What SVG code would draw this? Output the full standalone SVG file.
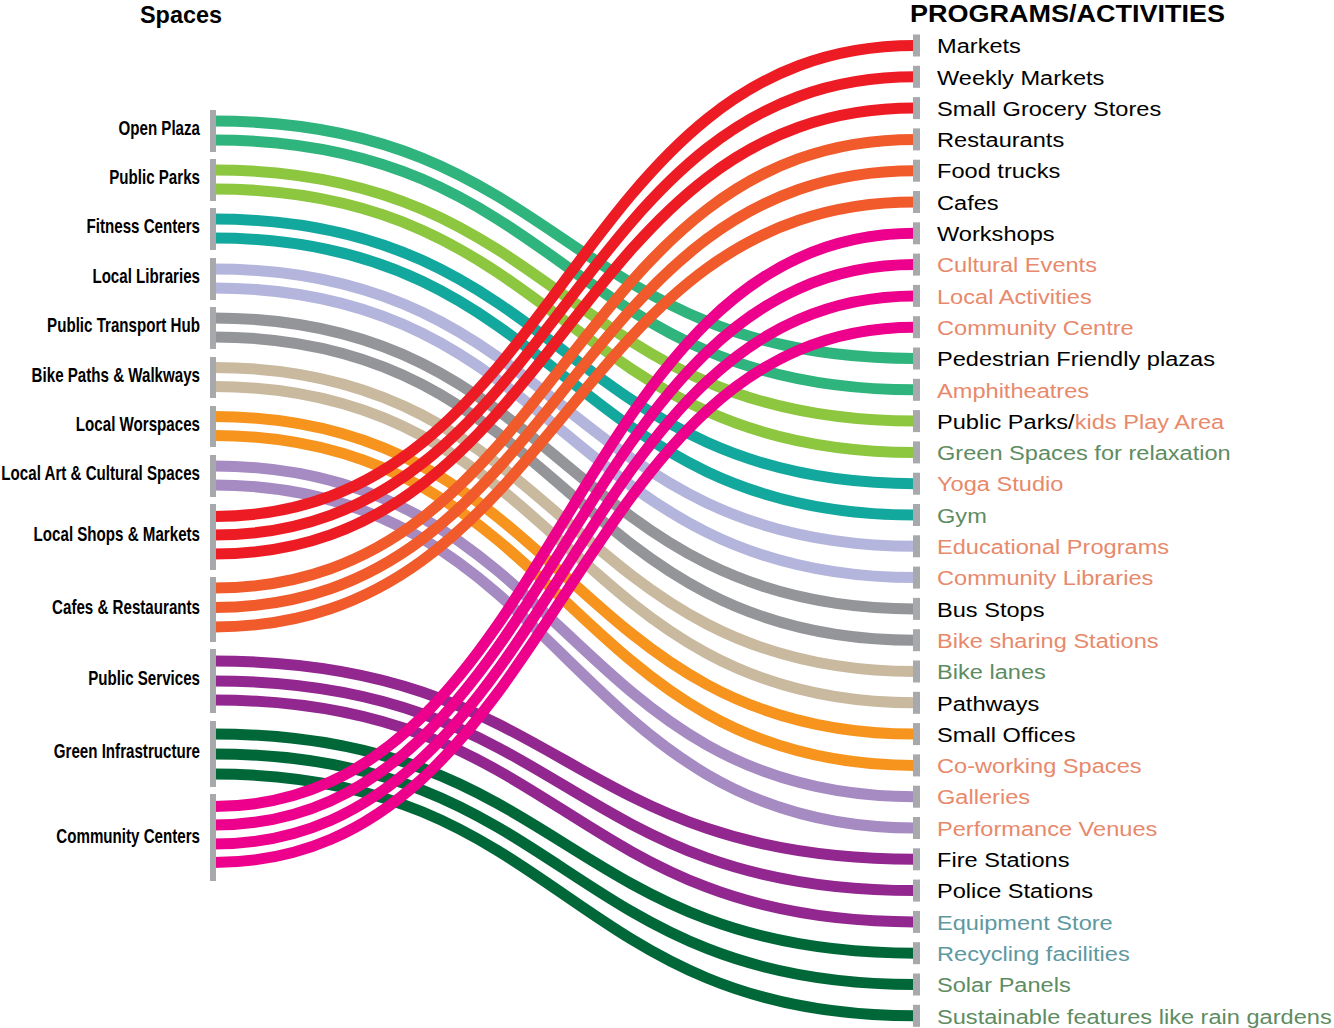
<svg xmlns="http://www.w3.org/2000/svg" width="1334" height="1028" viewBox="0 0 1334 1028">
<style>
.bar{fill:#A7A9AC}
.ln{fill:none;stroke-width:11}
.lt{font-family:"Liberation Sans",Arial,sans-serif;font-weight:bold;font-size:20px;fill:#000;text-anchor:end}
.rt{font-family:"Liberation Sans",Arial,sans-serif;font-size:21px;fill:#000}
.o{fill:#E8896B}.g{fill:#5E8C62}.t{fill:#5E98A0}
.hd{font-family:"Liberation Sans",Arial,sans-serif;font-weight:bold;fill:#000}
.c1{stroke:#2EB47C}.c2{stroke:#8DC63F}.c3{stroke:#13A89E}.c4{stroke:#B3B5DC}.c5{stroke:#939598}.c6{stroke:#C8B99F}.c7{stroke:#F7941D}.c8{stroke:#A68BC3}.c9{stroke:#ED1C24}.c10{stroke:#F15A2B}.c11{stroke:#92278F}.c12{stroke:#006838}.c13{stroke:#EC008C}
</style>
<text class="hd" x="140" y="22.5" font-size="24" textLength="82" lengthAdjust="spacingAndGlyphs">Spaces</text>
<text class="hd" x="910" y="21.7" font-size="23.3" textLength="315" lengthAdjust="spacingAndGlyphs">PROGRAMS/ACTIVITIES</text>
<g id="connectors" opacity="1">
<path class="ln c1" d="M214,121 C564.5,121 564.5,358.5 915,358.5"/>
<path class="ln c1" d="M214,140 C564.5,140 564.5,389.8 915,389.8"/>
<path class="ln c2" d="M214,170 C564.5,170 564.5,421.1 915,421.1"/>
<path class="ln c2" d="M214,189 C564.5,189 564.5,452.4 915,452.4"/>
<path class="ln c3" d="M214,219 C564.5,219 564.5,483.7 915,483.7"/>
<path class="ln c3" d="M214,238 C564.5,238 564.5,515 915,515"/>
<path class="ln c4" d="M214,269 C564.5,269 564.5,546.3 915,546.3"/>
<path class="ln c4" d="M214,288 C564.5,288 564.5,577.6 915,577.6"/>
<path class="ln c5" d="M214,318 C564.5,318 564.5,608.9 915,608.9"/>
<path class="ln c5" d="M214,337 C564.5,337 564.5,640.2 915,640.2"/>
<path class="ln c6" d="M214,367.5 C564.5,367.5 564.5,671.5 915,671.5"/>
<path class="ln c6" d="M214,386.5 C564.5,386.5 564.5,702.8 915,702.8"/>
<path class="ln c7" d="M214,416.5 C564.5,416.5 564.5,734.1 915,734.1"/>
<path class="ln c7" d="M214,435.5 C564.5,435.5 564.5,765.4 915,765.4"/>
<path class="ln c8" d="M214,466 C564.5,466 564.5,796.7 915,796.7"/>
<path class="ln c8" d="M214,485 C564.5,485 564.5,828 915,828"/>
<path class="ln c9" d="M214,516.5 C564.5,516.5 564.5,45.5 915,45.5"/>
<path class="ln c9" d="M214,535 C564.5,535 564.5,76.8 915,76.8"/>
<path class="ln c9" d="M214,554 C564.5,554 564.5,108.1 915,108.1"/>
<path class="ln c10" d="M214,588 C564.5,588 564.5,139.4 915,139.4"/>
<path class="ln c10" d="M214,607.5 C564.5,607.5 564.5,170.7 915,170.7"/>
<path class="ln c10" d="M214,627 C564.5,627 564.5,202 915,202"/>
<path class="ln c11" d="M214,661 C564.5,661 564.5,859.3 915,859.3"/>
<path class="ln c11" d="M214,681 C564.5,681 564.5,890.6 915,890.6"/>
<path class="ln c11" d="M214,700 C564.5,700 564.5,921.9 915,921.9"/>
<path class="ln c12" d="M214,734 C564.5,734 564.5,953.2 915,953.2"/>
<path class="ln c12" d="M214,754 C564.5,754 564.5,984.5 915,984.5"/>
<path class="ln c12" d="M214,774 C564.5,774 564.5,1015.8 915,1015.8"/>
<path class="ln c13" d="M214,806.5 C564.5,806.5 564.5,233.3 915,233.3"/>
<path class="ln c13" d="M214,825 C564.5,825 564.5,264.6 915,264.6"/>
<path class="ln c13" d="M214,844 C564.5,844 564.5,295.9 915,295.9"/>
<path class="ln c13" d="M214,862.5 C564.5,862.5 564.5,327.2 915,327.2"/>
</g>
<g id="spaces">
<g id="s-open-plaza"><rect class="bar" x="210" y="110" width="6" height="42"/></g>
<g id="s-public-parks"><rect class="bar" x="210" y="159" width="6" height="42"/></g>
<g id="s-fitness"><rect class="bar" x="210" y="208" width="6" height="42"/></g>
<g id="s-libraries"><rect class="bar" x="210" y="258" width="6" height="42"/></g>
<g id="s-transport"><rect class="bar" x="210" y="307" width="6" height="42"/></g>
<g id="s-bike"><rect class="bar" x="210" y="357" width="6" height="41"/></g>
<g id="s-work"><rect class="bar" x="210" y="406" width="6" height="41"/></g>
<g id="s-art"><rect class="bar" x="210" y="455" width="6" height="42"/></g>
<g id="s-shops"><rect class="bar" x="210" y="504" width="6" height="66"/></g>
<g id="s-cafes"><rect class="bar" x="210" y="577" width="6" height="65"/></g>
<g id="s-services"><rect class="bar" x="210" y="649" width="6" height="64"/></g>
<g id="s-green"><rect class="bar" x="210" y="721" width="6" height="66"/></g>
<g id="s-community"><rect class="bar" x="210" y="794" width="6" height="87"/></g>
<g transform="translate(200,0) scale(0.757,1)">
<text class="lt" x="0" y="135.5">Open Plaza</text>
<text class="lt" x="0" y="184.5">Public Parks</text>
<text class="lt" x="0" y="233.5">Fitness Centers</text>
<text class="lt" x="0" y="283.5">Local Libraries</text>
<text class="lt" x="0" y="332.5">Public Transport Hub</text>
<text class="lt" x="0" y="382">Bike Paths &amp; Walkways</text>
<text class="lt" x="0" y="431">Local Worspaces</text>
<text class="lt" x="0" y="480.5">Local Art &amp; Cultural Spaces</text>
<text class="lt" x="0" y="541.5">Local Shops &amp; Markets</text>
<text class="lt" x="0" y="614">Cafes &amp; Restaurants</text>
<text class="lt" x="0" y="685.5">Public Services</text>
<text class="lt" x="0" y="758.5">Green Infrastructure</text>
<text class="lt" x="0" y="843">Community Centers</text>
</g>
</g>
<g id="programs">
<rect class="bar" x="913" y="34.5" width="7" height="22"/>
<rect class="bar" x="913" y="65.8" width="7" height="22"/>
<rect class="bar" x="913" y="97.1" width="7" height="22"/>
<rect class="bar" x="913" y="128.4" width="7" height="22"/>
<rect class="bar" x="913" y="159.7" width="7" height="22"/>
<rect class="bar" x="913" y="191" width="7" height="22"/>
<rect class="bar" x="913" y="222.3" width="7" height="22"/>
<rect class="bar" x="913" y="253.6" width="7" height="22"/>
<rect class="bar" x="913" y="284.9" width="7" height="22"/>
<rect class="bar" x="913" y="316.2" width="7" height="22"/>
<rect class="bar" x="913" y="347.5" width="7" height="22"/>
<rect class="bar" x="913" y="378.8" width="7" height="22"/>
<rect class="bar" x="913" y="410.1" width="7" height="22"/>
<rect class="bar" x="913" y="441.4" width="7" height="22"/>
<rect class="bar" x="913" y="472.7" width="7" height="22"/>
<rect class="bar" x="913" y="504" width="7" height="22"/>
<rect class="bar" x="913" y="535.3" width="7" height="22"/>
<rect class="bar" x="913" y="566.6" width="7" height="22"/>
<rect class="bar" x="913" y="597.9" width="7" height="22"/>
<rect class="bar" x="913" y="629.2" width="7" height="22"/>
<rect class="bar" x="913" y="660.5" width="7" height="22"/>
<rect class="bar" x="913" y="691.8" width="7" height="22"/>
<rect class="bar" x="913" y="723.1" width="7" height="22"/>
<rect class="bar" x="913" y="754.4" width="7" height="22"/>
<rect class="bar" x="913" y="785.7" width="7" height="22"/>
<rect class="bar" x="913" y="817" width="7" height="22"/>
<rect class="bar" x="913" y="848.3" width="7" height="22"/>
<rect class="bar" x="913" y="879.6" width="7" height="22"/>
<rect class="bar" x="913" y="910.9" width="7" height="22"/>
<rect class="bar" x="913" y="942.2" width="7" height="22"/>
<rect class="bar" x="913" y="973.5" width="7" height="22"/>
<rect class="bar" x="913" y="1004.8" width="7" height="22"/>
<g transform="translate(937,0) scale(1.124,1)">
<text class="rt" x="0" y="53.3">Markets</text>
<text class="rt" x="0" y="84.6">Weekly Markets</text>
<text class="rt" x="0" y="115.9">Small Grocery Stores</text>
<text class="rt" x="0" y="147.2">Restaurants</text>
<text class="rt" x="0" y="178.5">Food trucks</text>
<text class="rt" x="0" y="209.8">Cafes</text>
<text class="rt" x="0" y="241.1">Workshops</text>
<text class="rt o" x="0" y="272.4">Cultural Events</text>
<text class="rt o" x="0" y="303.7">Local Activities</text>
<text class="rt o" x="0" y="335">Community Centre</text>
<text class="rt" x="0" y="366.3">Pedestrian Friendly plazas</text>
<text class="rt o" x="0" y="397.6">Amphitheatres</text>
<text class="rt" x="0" y="428.9">Public Parks/<tspan class="o">kids Play Area</tspan></text>
<text class="rt g" x="0" y="460.2">Green Spaces for relaxation</text>
<text class="rt o" x="0" y="491.5">Yoga Studio</text>
<text class="rt g" x="0" y="522.8">Gym</text>
<text class="rt o" x="0" y="554.1">Educational Programs</text>
<text class="rt o" x="0" y="585.4">Community Libraries</text>
<text class="rt" x="0" y="616.7">Bus Stops</text>
<text class="rt o" x="0" y="648">Bike sharing Stations</text>
<text class="rt g" x="0" y="679.3">Bike lanes</text>
<text class="rt" x="0" y="710.6">Pathways</text>
<text class="rt" x="0" y="741.9">Small Offices</text>
<text class="rt o" x="0" y="773.2">Co-working Spaces</text>
<text class="rt o" x="0" y="804.5">Galleries</text>
<text class="rt o" x="0" y="835.8">Performance Venues</text>
<text class="rt" x="0" y="867.1">Fire Stations</text>
<text class="rt" x="0" y="898.4">Police Stations</text>
<text class="rt t" x="0" y="929.7">Equipment Store</text>
<text class="rt t" x="0" y="961">Recycling facilities</text>
<text class="rt g" x="0" y="992.3">Solar Panels</text>
<text class="rt g" x="0" y="1023.6">Sustainable features like rain gardens</text>
</g>
</g>
</svg>
